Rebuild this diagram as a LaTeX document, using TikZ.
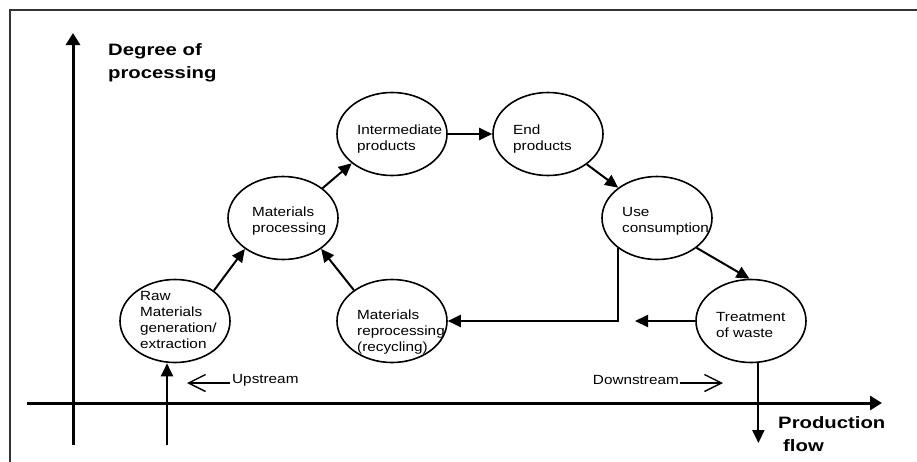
\documentclass[tikz,border=0pt]{standalone}
\usepackage{fontspec}
\setmainfont{Liberation Sans}
\newfontfamily\boxfont[FakeStretch=1.15]{Liberation Sans}
\newfontfamily\axisfont[FakeStretch=1.23]{Liberation Sans}
\usetikzlibrary{arrows.meta,shapes.geometric}

\begin{document}
\begin{tikzpicture}[x=1pt,y=-1pt,
  proc/.style={draw, ellipse, line width=1.6pt, minimum width=110pt,
    minimum height=83pt, inner sep=0pt},
  txt/.style={font=\boxfont\fontsize{13.3}{16}\selectfont, align=left,
    inner sep=0pt, anchor=west},
  axlabel/.style={font=\axisfont\bfseries\fontsize{16.5}{22.5}\selectfont,
    align=left, inner sep=0pt, anchor=west},
  flowarrow/.style={line width=2pt, -{Triangle[length=13pt,width=12pt]}},
  axisarrow/.style={line width=3pt, -{Triangle[length=12pt,width=14pt]}},
  hint/.style={line width=1.4pt, -{Straight Barb[length=17pt,width=17pt]}}]

\useasboundingbox (0,0) rectangle (917,461);

% frame
\draw[line width=1.3pt, black!80] (10,470) -- (10,10) -- (925,10);

% axes
\coordinate (ybase) at (73,445);
\coordinate (ytop) at (73,33);
\coordinate (xbase) at (27,403);
\coordinate (xtip) at (882,403);
\draw[axisarrow] (ybase) -- (ytop);
\draw[axisarrow] (xbase) -- (xtip);
\node[axlabel] (ylab) at (108,63) {Degree of\\processing};
\node[axlabel] (xlab) at (778,434) {Production\\\hspace*{5pt}flow};

% process stages
\node[proc] (raw)    at (175,321) {};
\node[proc] (matp)   at (283,218) {};
\node[proc] (inter)  at (392,134) {};
\node[proc] (endp)   at (548,134) {};
\node[proc] (use)    at (657,218) {};
\node[proc] (repro)  at (392,321) {};
\node[proc] (treat)  at (751,321) {};

\node[txt] (rawT)   at (140,320) {Raw\\Materials\\generation/\\extraction};
\node[txt] (matpT)  at (252,221) {Materials\\processing};
\node[txt] (interT) at (357,139) {Intermediate\\products};
\node[txt] (endpT)  at (513,139) {End\\products};
\begin{scope}
  \clip (657,218) ellipse [x radius=54.2pt, y radius=40.7pt];
  \node[txt] (useT) at (622,221) {Use\\consumption};
\end{scope}
\node[txt] (reproT) at (357,332) {Materials\\reprocessing\\(recycling)};
\node[txt] (treatT) at (716,325) {Treatment\\of waste};

% flows between stages
\draw[flowarrow] (raw.38) -- (matp.219);
\draw[flowarrow] (repro.141) -- (matp.321);
\draw[flowarrow] (matp.37) -- (inter.216);
\draw[flowarrow] (inter.east) -- (endp.west);
\draw[flowarrow] (endp.322) -- (use.142);
\draw[flowarrow] (use.323) -- (treat.92);
\draw[flowarrow] (use.218) |- (repro.east);

\coordinate (wasteout) at (635,321);
\draw[flowarrow] (treat.west) -- (wasteout);

\coordinate (flowout) at (758,443);
\draw[flowarrow] (treat.280) -- (treat.280 |- flowout);

\coordinate (rawin) at (167,445);
\draw[flowarrow] (rawin) -- (rawin |- raw.south);

% stream direction hints
\coordinate (upfrom) at (230,383);
\coordinate (upto) at (187,383);
\draw[hint] (upfrom) -- (upto);
\node[txt] (upT) at (232,380) {Upstream};

\coordinate (downfrom) at (680,383);
\coordinate (downto) at (723,383);
\draw[hint] (downfrom) -- (downto);
\node[txt, anchor=east] (downT) at (679,380) {Downstream};
\end{tikzpicture}
\end{document}
